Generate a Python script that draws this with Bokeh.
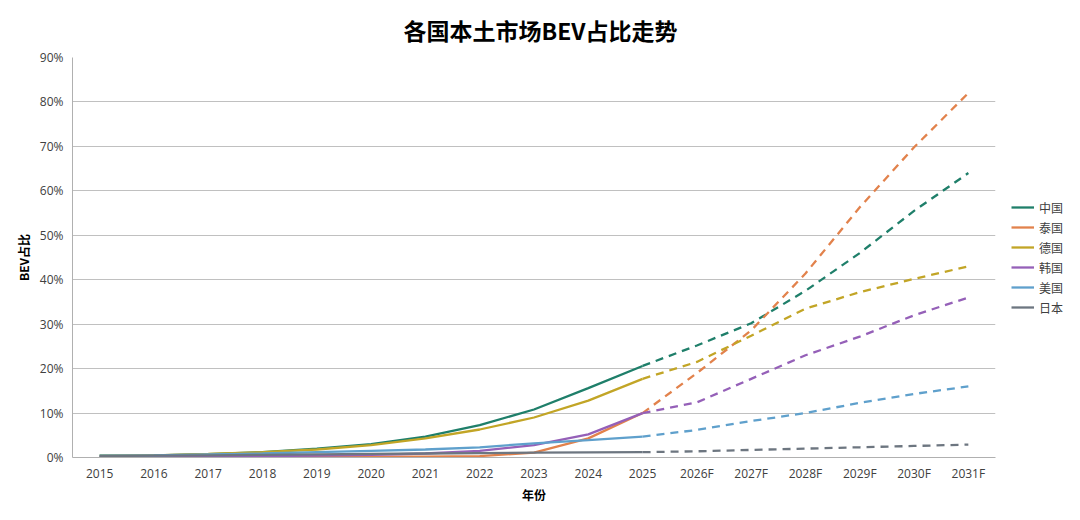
from bokeh.plotting import figure
from bokeh.models import (ColumnDataSource, FactorRange, Range1d, NumeralTickFormatter,
                          FixedTicker, Legend, LegendItem)
from bokeh.embed import file_html
from bokeh.resources import INLINE

# ---- data (values in %) ----
years = ["2015", "2016", "2017", "2018", "2019", "2020", "2021", "2022", "2023",
         "2024", "2025", "2026F", "2027F", "2028F", "2029F", "2030F", "2031F"]
n_actual = 11  # 2015..2025 actual (solid), then forecast (dashed)

china    = [0.4, 0.5, 0.75, 1.2, 2.0, 3.0, 4.7, 7.3, 10.8, 15.6, 20.6, 25.2, 30.2, 37.5, 46.0, 55.5, 64.0]
thailand = [0.1, 0.1, 0.1, 0.1, 0.1, 0.2, 0.2, 0.3, 1.1, 4.3, 10.0, 19.0, 28.6, 41.4, 56.3, 69.8, 82.0]
germany  = [0.4, 0.5, 0.8, 1.2, 1.8, 2.8, 4.3, 6.3, 9.0, 12.8, 17.7, 21.5, 27.4, 33.5, 37.2, 40.2, 43.0]
korea    = [0.1, 0.15, 0.2, 0.3, 0.4, 0.6, 0.9, 1.5, 2.8, 5.2, 10.0, 12.4, 17.7, 23.0, 27.2, 32.0, 36.0]
usa      = [0.4, 0.5, 0.7, 0.9, 1.2, 1.5, 1.8, 2.3, 3.2, 3.9, 4.7, 6.2, 8.2, 10.0, 12.3, 14.3, 16.0]
japan    = [0.3, 0.4, 0.5, 0.6, 0.7, 0.8, 0.9, 1.0, 1.1, 1.15, 1.2, 1.4, 1.7, 2.0, 2.3, 2.6, 2.9]

series_names = ["中国", "泰国", "德国", "韩国", "美国", "日本"]
series_values = [china, thailand, germany, korea, usa, japan]
colors = ["#1f7f6a", "#e2824c", "#c2a526", "#9560b8", "#5fa0cc", "#6d7680"]

y_ticks = [0, 10, 20, 30, 40, 50, 60, 70, 80, 90]

title_text = "各国本土市场BEV占比走势"
x_label = "年份"
y_label = "BEV占比"

CJK = "Noto Sans CJK SC"
NUM = "Open Sans"

p = figure(x_range=FactorRange(factors=years), y_range=Range1d(0, y_ticks[-1] / 100),
           frame_width=923, frame_height=400,
           min_border_left=72, min_border_right=85, min_border_top=57, min_border_bottom=63,
           output_backend="svg", toolbar_location=None, title=title_text)

p.title.text_font = CJK
p.title.text_font_size = "23px"
p.title.text_font_style = "bold"
p.title.text_color = "#000000"
p.title.align = "left"
p.title.offset = 331
p.title.standoff = 21

p.outline_line_color = None
p.background_fill_color = "white"
p.border_fill_color = "white"

p.xgrid.grid_line_color = None
p.ygrid.grid_line_color = "#c0c0c0"
p.ygrid.grid_line_width = 1

p.yaxis.ticker = FixedTicker(ticks=[t / 100 for t in y_ticks])
p.yaxis.formatter = NumeralTickFormatter(format="0%")

for ax in (p.xaxis[0], p.yaxis[0]):
    ax.axis_line_color = "#b0b0b0"
    ax.major_tick_line_color = None
    ax.minor_tick_line_color = None
    ax.major_tick_out = 0
    ax.major_tick_in = 0
    ax.minor_tick_out = 0
    ax.major_label_text_font = NUM
    ax.major_label_text_font_size = "12px"
    ax.major_label_text_color = "#404040"
    ax.axis_label_text_font = CJK
    ax.axis_label_text_font_size = "12px"
    ax.axis_label_text_font_style = "bold"
    ax.axis_label_text_color = "#000000"

p.xaxis.axis_label = x_label
p.yaxis.axis_label = y_label
p.xaxis.major_label_standoff = 7
p.xaxis.axis_label_standoff = 1
p.yaxis.major_label_standoff = 9
p.yaxis.axis_label_standoff = 5

items = []
for name, vals, col in zip(series_names, series_values, colors):
    actual = ColumnDataSource(dict(x=years[:n_actual], y=[v / 100 for v in vals[:n_actual]]))
    fc = ColumnDataSource(dict(x=years[n_actual - 1:], y=[v / 100 for v in vals[n_actual - 1:]]))
    r = p.line("x", "y", source=actual, line_color=col, line_width=2.3)
    p.line("x", "y", source=fc, line_color=col, line_width=2.3, line_dash="8 6")
    items.append(LegendItem(label=name, renderers=[r]))

legend = Legend(items=items, location="center_left", margin=16, padding=0,
                glyph_width=23, glyph_height=20, label_height=20, spacing=0,
                label_standoff=5, border_line_color=None, background_fill_alpha=0,
                label_text_font=CJK, label_text_font_size="12px", label_text_color="#404040")
p.add_layout(legend, "right")

open("out.html", "w").write(file_html(p, INLINE))
